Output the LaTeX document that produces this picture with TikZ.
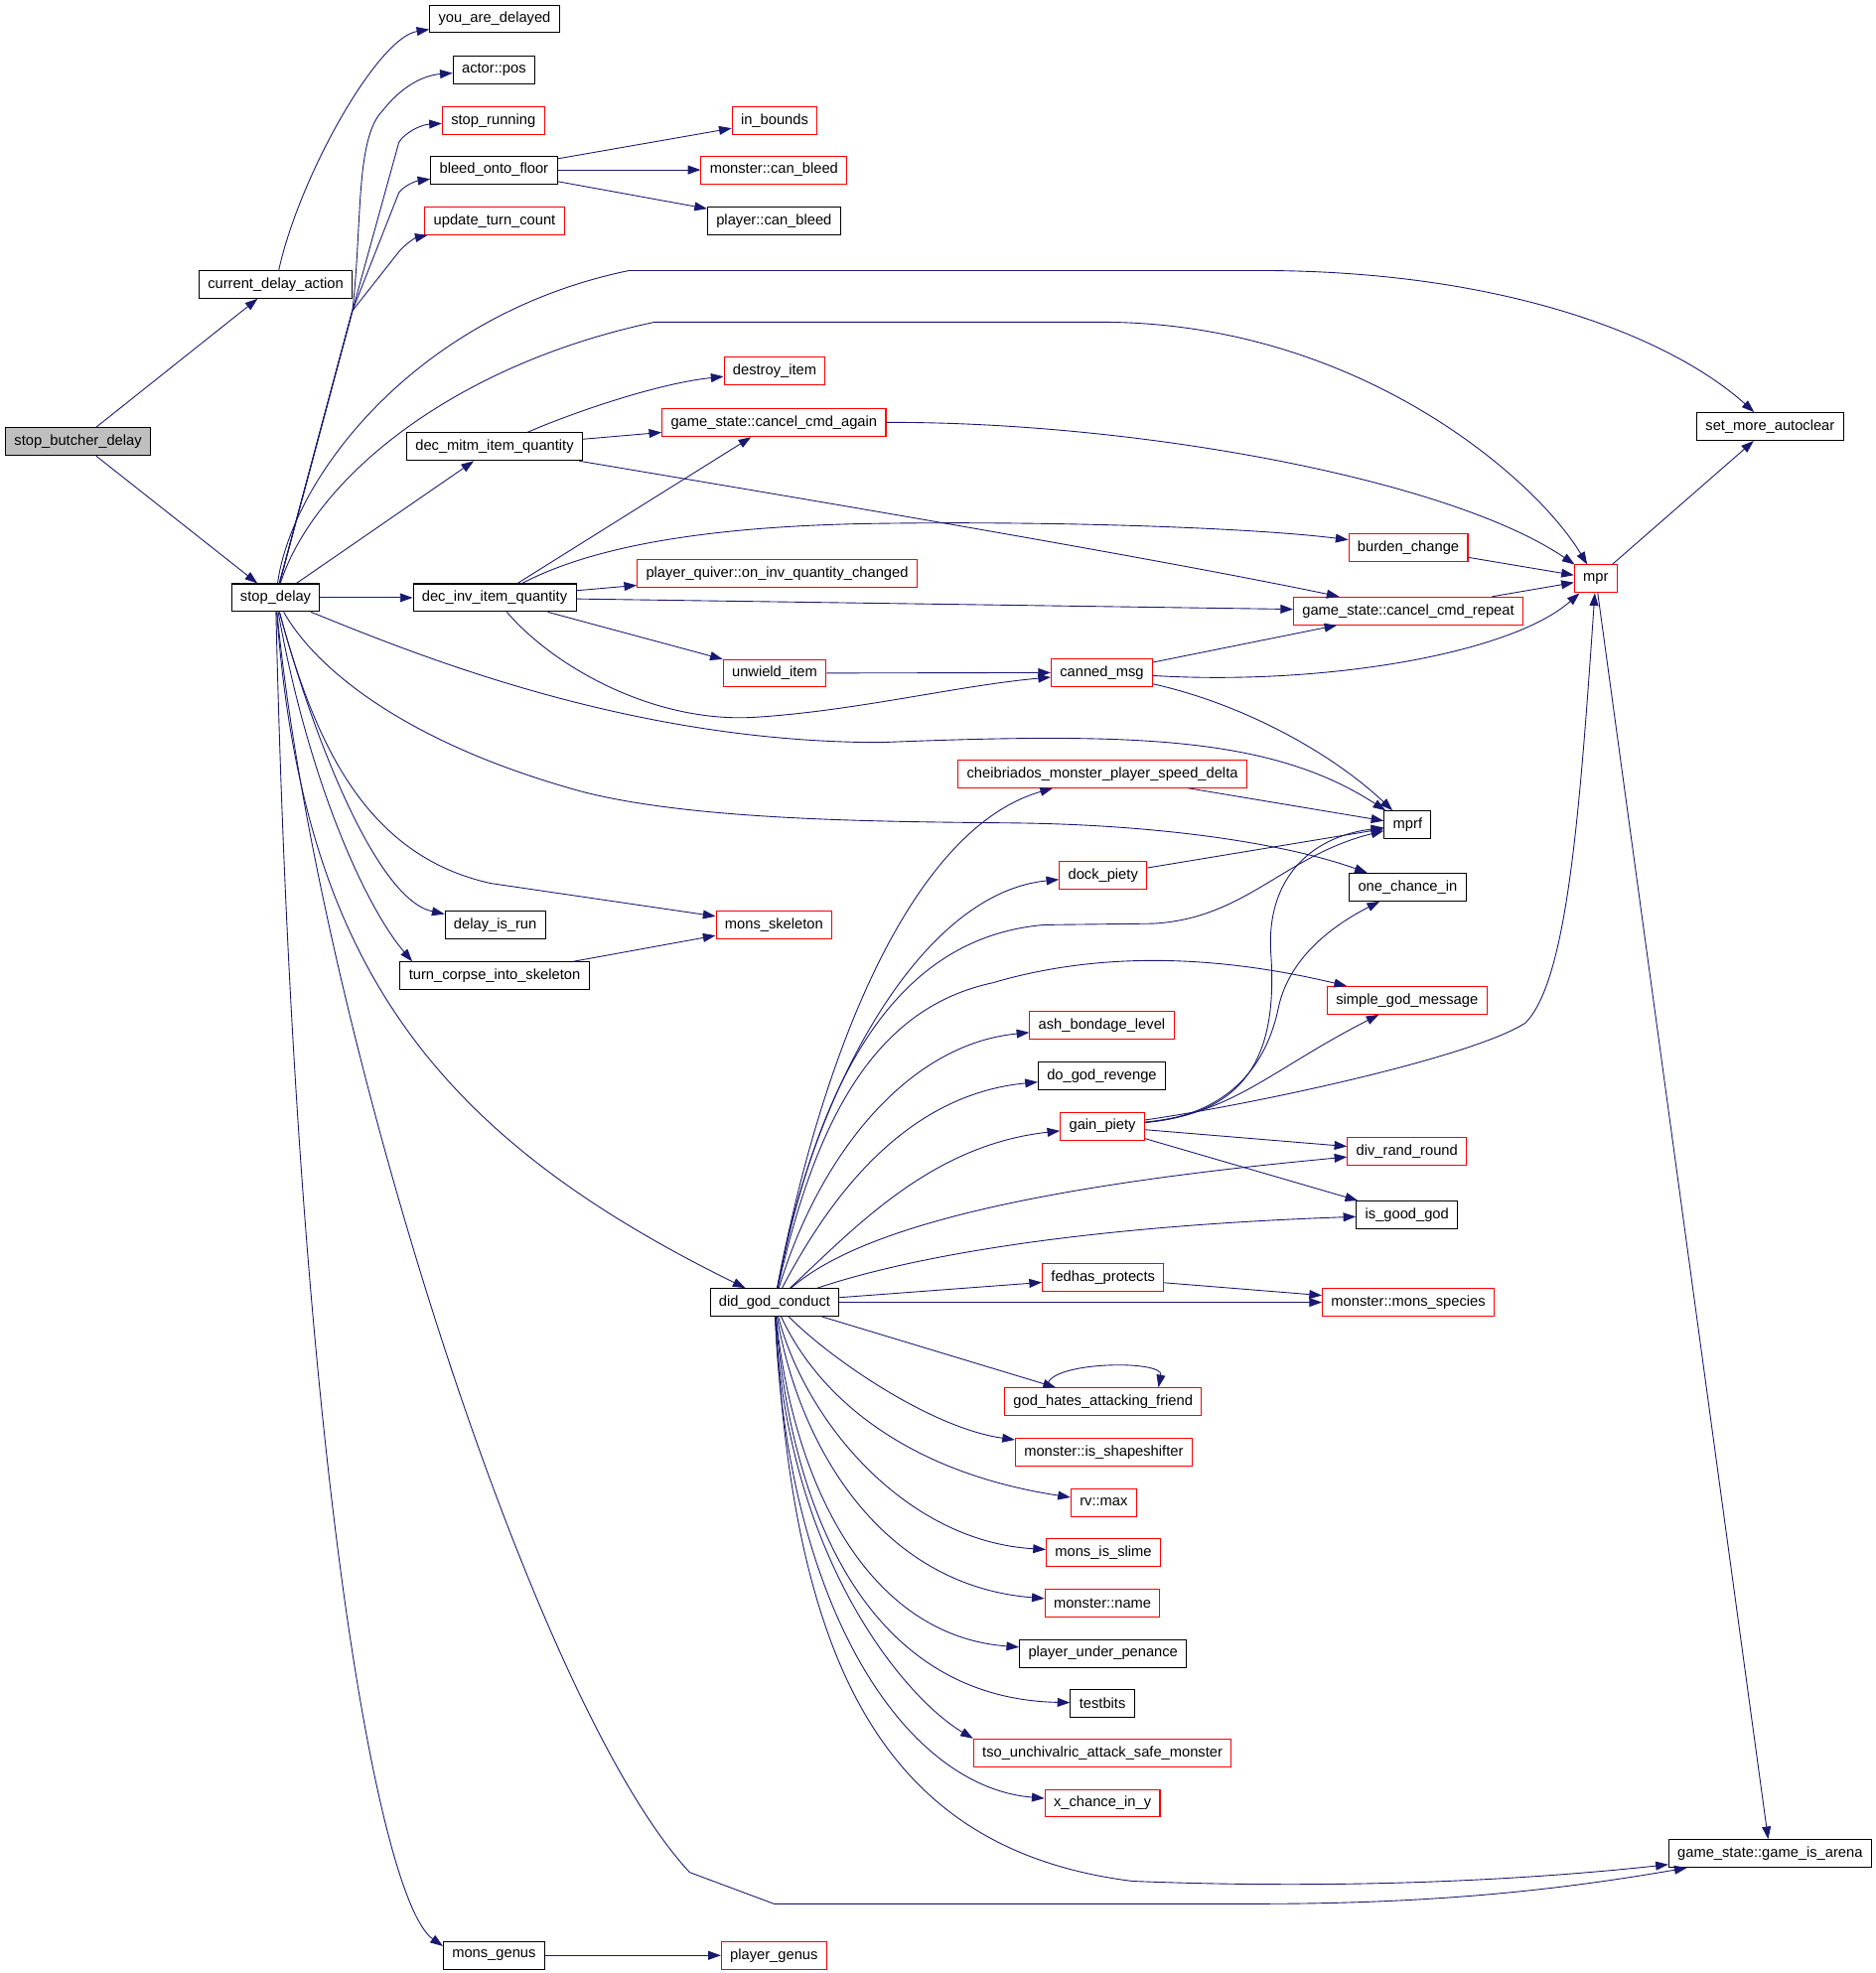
\documentclass[tikz,border=0pt]{standalone}
\usepackage{fontspec}
\setmainfont{Liberation Sans}
\usetikzlibrary{arrows.meta}
\definecolor{edgec}{HTML}{191970}
\begin{document}
\begin{tikzpicture}[x=1pt,y=-1pt,
  fn/.style={draw=black,line width=0.8pt,rectangle,minimum height=22pt,inner xsep=7pt,inner ysep=0pt,font=\fontsize{11.6}{13}\selectfont,fill=white},
  rn/.style={fn,draw=red},
  gn/.style={fn,fill=gray!50},
  e/.style={draw=edgec,line width=0.7pt,-{Triangle[length=10pt,width=7pt]}},
]
\useasboundingbox[fill=white] (0,0) rectangle (1490,1568);
% nodes
\node[gn] (sbd) at (62,351) {stop\_butcher\_delay};
\node[fn] (cda) at (219,226) {current\_delay\_action};
\node[fn] (sd) at (219,475) {stop\_delay};
\node[fn] (yad) at (393,15) {you\_are\_delayed};
\node[fn] (ap) at (392.5,55.5) {actor::pos};
\node[rn] (sr) at (392,96) {stop\_running};
\node[fn] (bof) at (392.5,135) {bleed\_onto\_floor};
\node[rn] (utc) at (393,175.5) {update\_turn\_count};
\node[rn] (ib) at (615.5,96) {in\_bounds};
\node[rn] (mcb) at (615,135) {monster::can\_bleed};
\node[fn] (pcb) at (615,175.5) {player::can\_bleed};
\node[rn] (di) at (615.5,295) {destroy\_item};
\node[rn] (gca) at (615,336) {game\_state::cancel\_cmd\_again};
\node[fn] (dmq) at (393,355) {dec\_mitm\_item\_quantity};
\node[fn] (diq) at (393,475) {dec\_inv\_item\_quantity};
\node[rn] (pq) at (617.5,455.5) {player\_quiver::on\_inv\_quantity\_changed};
\node[rn] (uw) at (615.5,535) {unwield\_item};
\node[rn] (bc) at (1119,435) {burden\_change};
\node[rn] (gcr) at (1119,485.5) {game\_state::cancel\_cmd\_repeat};
\node[rn] (cm) at (875.5,534.5) {canned\_msg};
\node[rn] (mpr) at (1268,460) {mpr};
\node[fn] (sma) at (1406.5,339) {set\_more\_autoclear};
\node[rn] (cmpsd) at (876,615) {cheibriados\_monster\_player\_speed\_delta};
\node[fn] (mprf) at (1118.5,655.5) {mprf};
\node[rn] (dp) at (876.5,695.5) {dock\_piety};
\node[fn] (oci) at (1118.5,705) {one\_chance\_in};
\node[fn] (dir) at (393.5,735) {delay\_is\_run};
\node[rn] (ms) at (615,735) {mons\_skeleton};
\node[fn] (tcs) at (393,775.5) {turn\_corpse\_into\_skeleton};
\node[rn] (sgm) at (1118,795) {simple\_god\_message};
\node[rn] (abl) at (875.5,815) {ash\_bondage\_level};
\node[fn] (dgr) at (875.5,855) {do\_god\_revenge};
\node[rn] (gp) at (876,895) {gain\_piety};
\node[rn] (drr) at (1118,915) {div\_rand\_round};
\node[fn] (igg) at (1118,965.5) {is\_good\_god};
\node[rn] (fp) at (876.5,1015.5) {fedhas\_protects};
\node[rn] (mms) at (1119,1035) {monster::mons\_species};
\node[fn] (dgc) at (615.5,1035) {did\_god\_conduct};
\node[rn] (ghaf) at (876.5,1114) {god\_hates\_attacking\_friend};
\node[rn] (miss) at (877,1154) {monster::is\_shapeshifter};
\node[rn] (rvm) at (877,1194) {rv::max};
\node[rn] (mis) at (876.7,1234) {mons\_is\_slime};
\node[rn] (mn) at (876,1274) {monster::name};
\node[fn] (pup) at (876.5,1314) {player\_under\_penance};
\node[fn] (tb) at (876,1353.6) {testbits};
\node[rn] (tso) at (876,1393) {tso\_unchivalric\_attack\_safe\_monster};
\node[rn] (xc) at (876,1433) {x\_chance\_in\_y};
\node[fn] (gia) at (1406.5,1473) {game\_state::game\_is\_arena};
\node[fn] (mg) at (392.5,1554) {mons\_genus};
\node[rn] (pg) at (615,1554) {player\_genus};
% edges
\draw[e] (sbd) -- (cda);
\draw[e] (sbd) -- (sd);
\draw[e] (cda) .. controls (238,140) and (300,30) .. (yad);
\draw[e] (sd) -- (280,247) .. controls (288,180) and (282,110) .. (304,88) .. controls (318,70) and (335,60) .. (ap);
\draw[e] (sd) -- (280,247) -- (317,113) .. controls (322,105) and (335,99) .. (sr);
\draw[e] (sd) -- (280,247) -- (317,153) .. controls (322,147) and (330,144) .. (bof);
\draw[e] (sd) -- (280,247) -- (317,200) .. controls (322,194) and (330,189) .. (utc);
\draw[e] (bof) -- (ib);
\draw[e] (bof) -- (mcb);
\draw[e] (bof) -- (pcb);
\draw[e] (sd) .. controls (232,380) and (330,250) .. (500,215) -- (1000,215) .. controls (1200,215) and (1330,270) .. (sma);
\draw[e] (sd) .. controls (250,380) and (360,290) .. (520,256) -- (880,256) .. controls (1080,258) and (1220,380) .. (mpr);
\draw[e] (sd) -- (dmq);
\draw[e] (sd) -- (diq);
\draw[e] (dmq) .. controls (450,330) and (520,305) .. (di);
\draw[e] (dmq) -- (gca);
\draw[e] (dmq) .. controls (600,390) and (900,440) .. (gcr);
\draw[e] (diq) -- (gca);
\draw[e] (diq) .. controls (460,440) and (540,418) .. (700,416) .. controls (850,414) and (1000,420) .. (bc);
\draw[e] (diq) -- (pq);
\draw[e] (diq) -- (gcr);
\draw[e] (diq) -- (uw);
\draw[e] (diq) .. controls (440,530) and (520,575) .. (600,570) .. controls (680,565) and (760,545) .. (cm);
\draw[e] (uw) -- (cm);
\draw[e] (cm) -- (gcr);
\draw[e] (cm) .. controls (1050,545) and (1200,520) .. (mpr);
\draw[e] (cm) .. controls (990,560) and (1060,600) .. (mprf);
\draw[e] (gca) .. controls (900,335) and (1150,380) .. (mpr);
\draw[e] (bc) -- (mpr);
\draw[e] (gcr) -- (mpr);
\draw[e] (mpr) -- (sma);
\draw[e] (mpr) -- (gia);
\draw[e] (sd) .. controls (330,520) and (500,590) .. (700,590) .. controls (900,582) and (1010,585) .. (mprf);
\draw[e] (sd) .. controls (250,530) and (320,590) .. (462,629) .. controls (550,652) and (700,653) .. (800,654) .. controls (920,655) and (1020,670) .. (oci);
\draw[e] (sd) .. controls (250,590) and (290,680) .. (390,702) -- (ms);
\draw[e] (sd) .. controls (250,590) and (300,715) .. (dir);
\draw[e] (sd) .. controls (245,620) and (290,720) .. ([xshift=10pt]tcs.north west);
\draw[e] (sd) .. controls (240,760) and (340,900) .. (dgc);
\draw[e] (sd) .. controls (250,800) and (420,1350) .. (548,1488) -- (615,1513) -- (1000,1513) .. controls (1150,1513) and (1250,1500) .. (gia);
\draw[e] (sd) .. controls (235,1150) and (300,1510) .. ([yshift=-4pt]mg.north west);
\draw[e] (mg) -- (pg);
\draw[e] (tcs) -- (ms);
\draw[e] (cmpsd) -- (mprf);
\draw[e] (dp) -- (mprf);
% did_god_conduct
\draw[e] (dgc) .. controls (650,850) and (720,660) .. (cmpsd);
\draw[e] (dgc) .. controls (645,870) and (730,710) .. (dp);
\draw[e] (dgc) .. controls (650,860) and (710,745) .. (830,735) -- (916,734) .. controls (990,730) and (1020,680) .. (mprf);
\draw[e] (dgc) .. controls (650,880) and (700,800) .. (789,781) .. controls (860,760) and (950,755) .. (sgm);
\draw[e] (dgc) .. controls (650,920) and (720,830) .. (abl);
\draw[e] (dgc) .. controls (660,950) and (720,870) .. (dgr);
\draw[e] (dgc) .. controls (680,975) and (740,910) .. (gp);
\draw[e] (dgc) .. controls (690,970) and (850,940) .. (drr);
\draw[e] (dgc) .. controls (720,1000) and (850,975) .. (igg);
\draw[e] (dgc) -- (fp);
\draw[e] (dgc) -- (mms);
\draw[e] (fp) -- (mms);
\draw[e] (dgc) -- (ghaf);
\draw[e] ([xshift=-44pt]ghaf.north) .. controls (828,1082) and (925,1080) .. ([xshift=44pt]ghaf.north);
\draw[e] (dgc) .. controls (660,1080) and (740,1135) .. (miss);
\draw[e] (dgc) .. controls (650,1110) and (720,1170) .. (rvm);
\draw[e] (dgc) .. controls (640,1130) and (720,1225) .. (mis);
\draw[e] (dgc) .. controls (635,1150) and (700,1260) .. (mn);
\draw[e] (dgc) .. controls (630,1180) and (690,1300) .. (pup);
\draw[e] (dgc) .. controls (630,1220) and (700,1350) .. (tb);
\draw[e] (dgc) .. controls (625,1240) and (720,1350) .. (tso.north west);
\draw[e] (dgc) .. controls (625,1280) and (720,1420) .. (xc);
\draw[e] (dgc) .. controls (630,1320) and (700,1470) .. (900,1495) .. controls (1100,1503) and (1250,1490) .. (gia);
% gain_piety
\draw[e] (gp) .. controls (990,885) and (1015,840) .. (1010,760) .. controls (1005,700) and (1040,665) .. (mprf);
\draw[e] (gp) .. controls (990,885) and (1010,830) .. (1016,800) .. controls (1025,760) and (1060,735) .. (oci);
\draw[e] (gp) .. controls (980,885) and (1010,850) .. (sgm);
\draw[e] (gp) .. controls (1000,877) and (1170,840) .. (1212,813) .. controls (1245,780) and (1255,650) .. (mpr);
\draw[e] (gp) -- (drr);
\draw[e] (gp) -- (igg);
\end{tikzpicture}
\end{document}
